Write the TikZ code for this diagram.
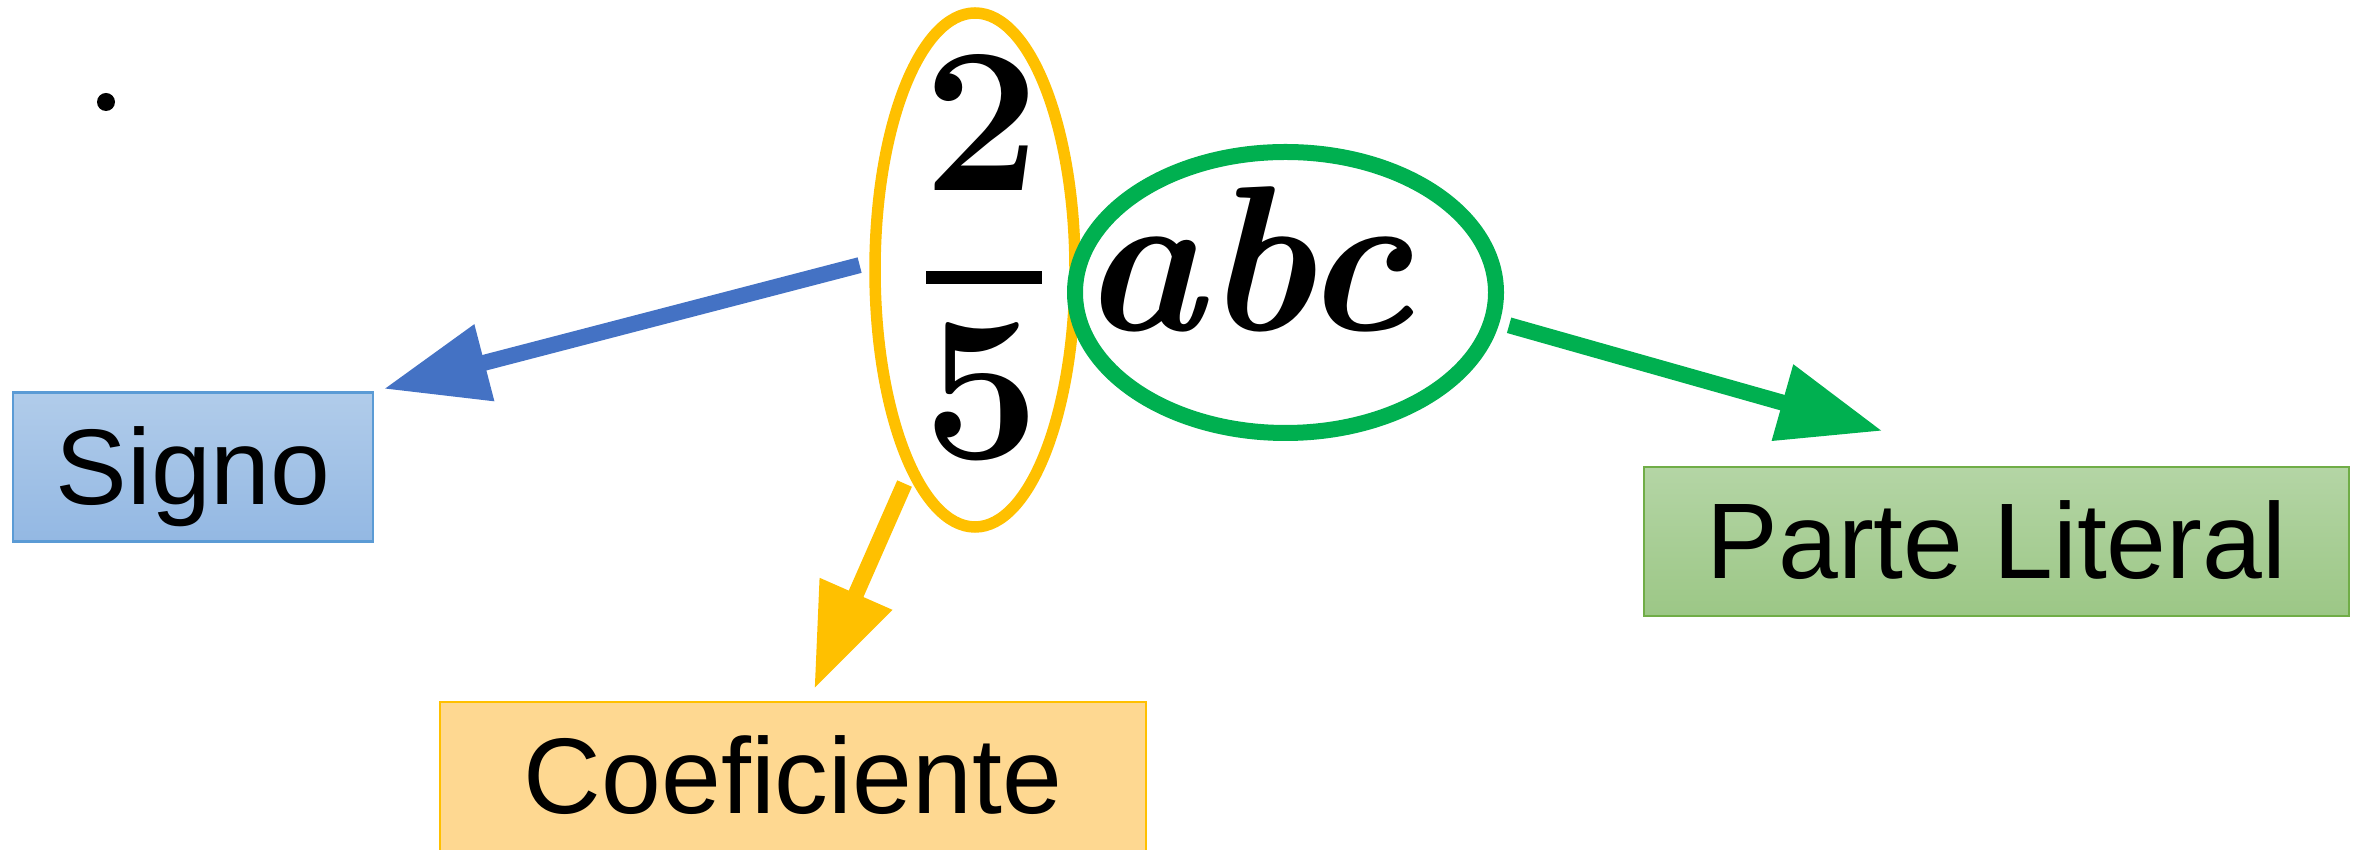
\documentclass[tikz,border=0pt]{standalone}
\usepackage{fontspec}
\newfontfamily\labelfont{Liberation Sans}
\usetikzlibrary{shapes.geometric, arrows.meta}

\definecolor{signoblue}{HTML}{4472C4}
\definecolor{signotop}{HTML}{B1CCEA}
\definecolor{signobot}{HTML}{93B8E3}
\definecolor{signoline}{HTML}{5B9BD5}
\definecolor{coefyellow}{HTML}{FFC000}
\definecolor{coeffill}{HTML}{FED891}
\definecolor{litgreen}{HTML}{00B050}
\definecolor{littop}{HTML}{B4D5A5}
\definecolor{litbot}{HTML}{9CC786}
\definecolor{litline}{HTML}{70AD47}

\begin{document}
\begin{tikzpicture}[
    every node/.style={inner sep=0pt},
    termbox/.style={rectangle, draw, line width=0.6pt, minimum height=1.49cm, text height=28pt, text depth=6.8pt, font=\labelfont\fontsize{30.6}{36}\selectfont},
    ring/.style={ellipse, draw},
    bigmath/.style={font=\fontsize{59}{64}\selectfont\bfseries},
    pointer/.style={-{Triangle[length=1.04cm, width=0.75cm]}, line width=0.16cm}
]
    \useasboundingbox (0,0) rectangle (23.61,-8.5);

    % Bullet
    \node[circle, fill=black, minimum size=0.18cm] (bullet) at (1.06,-1.02) {};

    % Monomial
    \node[bigmath, anchor=base] (two) at (9.82,-1.91) {2};
    \node[fill=black, minimum width=1.16cm, minimum height=0.13cm] (fracbar) at (9.84,-2.78) {};
    \node[bigmath, anchor=base] (five) at (9.82,-4.59) {5};
    \node[bigmath, anchor=base] (letters) at (12.47,-3.31) {\itshape abc};

    % Rings round the parts
    \node[ring, draw=coefyellow, line width=0.115cm, minimum width=2.0cm, minimum height=5.14cm] (coefring) at (9.75,-2.70) {};
    \node[ring, draw=litgreen, line width=0.16cm, minimum width=4.21cm, minimum height=2.81cm] (litring) at (12.855,-2.925) {};

    % Name boxes
    \node[termbox, top color=signotop, bottom color=signobot, draw=signoline, minimum width=3.60cm] (signo) at (1.93,-4.67) {Signo};
    \node[termbox, fill=coeffill, draw=coefyellow, minimum width=7.06cm] (coef) at (7.93,-7.765) {Coeficiente};
    \node[termbox, top color=littop, bottom color=litbot, draw=litline, minimum width=7.05cm] (lit) at (19.965,-5.415) {Parte Literal};

    % Arrows
    \draw[pointer, signoblue, shorten <=0.1cm, shorten >=0.1cm] (coefring.176) -- (signo.north east);
    \draw[pointer, coefyellow, shorten <=0.1cm, shorten >=0.13cm] (coefring.-108) -- ([xshift=0.16cm]coef.north);
    \draw[pointer, litgreen, shorten <=0.1cm] (litring.-8) -- ([shift={(-1.14cm,0.35cm)}]lit.north);

\end{tikzpicture}
\end{document}
